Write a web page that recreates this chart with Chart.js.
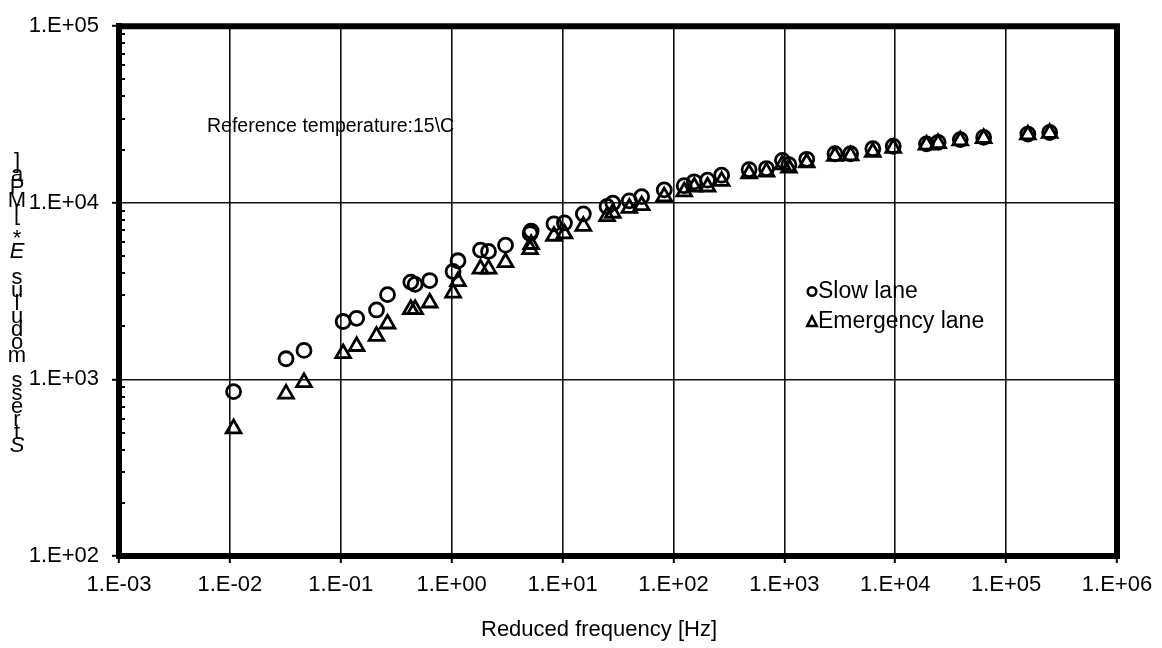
<!DOCTYPE html>
<html><head><meta charset="utf-8">
<script src="https://cdn.jsdelivr.net/npm/chart.js@4.4.1/dist/chart.umd.min.js"></script>
<style>html,body{margin:0;padding:0;background:#fff}#wrap{width:1162px;height:648px;position:relative}</style>
</head><body><div id="wrap"><canvas id="c" width="1162" height="648"></canvas></div>
<script>
// ---- data ----
const frequencies = [0.0108,0.0321,0.0466,0.105,0.139,0.21,0.264,0.428,0.468,0.634,1.03,1.14,1.82,2.15,3.06,5.1,5.21,8.36,10.4,15.4,25.2,28.4,40,51.7,82.6,125,154,203,272,481,690,961,1100,1592,2860,3960,6280,9590,19150,24380,38600,62700,157000,247000];
const slowLane = [853,1309,1459,2128,2218,2473,3019,3556,3452,3629,4083,4697,5396,5306,5755,6700,6918,7605,7690,8646,9536,9960,10260,10840,11830,12500,13150,13430,14330,15420,15630,17390,16440,17630,18950,18950,20240,20900,21570,22000,22790,23460,24510,25000];
const emergencyLane = [527,828,962,1403,1541,1760,2066,2495,2495,2717,3092,3592,4227,4227,4602,5453,5826,6486,6683,7376,8381,8755,9340,9660,10840,11560,12330,12330,13270,14650,14970,16440,15750,16870,18380,18500,19370,20380,21300,21700,22500,23200,24300,24800];
const xTickValues = [1e-3,1e-2,1e-1,1e0,1e1,1e2,1e3,1e4,1e5,1e6];
const yTickValues = [1e2,1e3,1e4,1e5];
const seriesNames = ['Slow lane','Emergency lane'];
const xTitle = 'Reduced frequency [Hz]';
const yTitle = 'Stress modulus E* [MPa]';
const noteText = 'Reference temperature:15\\C';

const FONT = '"Liberation Sans", Arial, sans-serif';
const FS = 22;

function fmt(v){
  const e = Math.round(Math.log10(v));
  const a = Math.abs(e);
  return '1.E' + (e < 0 ? '-' : '+') + (a < 10 ? '0' + a : '' + a);
}

const extras = {
  id: 'extras',
  afterDraw(chart){
    const ctx = chart.ctx, ca = chart.chartArea, ys = chart.scales.y;
    ctx.save();
    // top & right frame
    ctx.strokeStyle = '#000'; ctx.lineWidth = 6; ctx.lineCap = 'square';
    ctx.beginPath();
    ctx.moveTo(ca.left, ca.top); ctx.lineTo(ca.right, ca.top); ctx.lineTo(ca.right, ca.bottom);
    ctx.stroke();
    // minor ticks on y axis (inside)
    ctx.lineWidth = 2; ctx.lineCap = 'butt';
    for (let d = 2; d <= 4; d++) {
      for (let m = 2; m <= 9; m++) {
        const v = m * Math.pow(10, d);
        const py = Math.round(ys.getPixelForValue(v));
        ctx.beginPath(); ctx.moveTo(ca.left, py); ctx.lineTo(ca.left + 6, py); ctx.stroke();
      }
    }
    ctx.fillStyle = '#000';
    // note text
    ctx.font = '19.5px ' + FONT;
    ctx.textAlign = 'left'; ctx.textBaseline = 'middle';
    ctx.fillText(noteText, 207, 127);
    // x title
    ctx.font = FS + 'px ' + FONT;
    ctx.textAlign = 'center';
    ctx.fillText(xTitle, 599, 630);
    // legend
    ctx.font = '23px ' + FONT;
    ctx.textAlign = 'left';
    ctx.fillText(seriesNames[0], 818, 292);
    ctx.fillText(seriesNames[1], 818, 322);
    ctx.lineWidth = 2.5; ctx.strokeStyle = '#000';
    ctx.beginPath(); ctx.arc(812, 291.5, 4.3, 0, Math.PI * 2); ctx.stroke();
    ctx.beginPath();
    ctx.moveTo(812, 316.5); ctx.lineTo(816.8, 326); ctx.lineTo(807.2, 326); ctx.closePath(); ctx.stroke();
    // stacked y title (reversed characters, top to bottom)
    const chars = yTitle.split('').reverse();
    ctx.textAlign = 'center';
    const step = 12.9;
    chars.forEach((ch, i) => {
      if (ch === ' ') return;
      const it = (ch === 'E' || ch === 'S');
      ctx.font = (it ? 'italic ' : '') + '22px ' + FONT;
      ctx.fillText(ch, 17, 162 + i * step);
    });
    ctx.restore();
  }
};

new Chart(document.getElementById('c'), {
  type: 'scatter',
  data: {
    datasets: [
      {
        label: seriesNames[0],
        data: frequencies.map((f, i) => ({x: f, y: slowLane[i]})),
        pointStyle: 'circle', radius: 7, borderWidth: 2.8,
        borderColor: '#000', backgroundColor: 'rgba(0,0,0,0)', order: 2
      },
      {
        label: seriesNames[1],
        data: frequencies.map((f, i) => ({x: f, y: emergencyLane[i]})),
        pointStyle: 'triangle', radius: 8.5, borderWidth: 2.8,
        borderColor: '#000', backgroundColor: 'rgba(0,0,0,0)', order: 1
      }
    ]
  },
  options: {
    responsive: false, animation: false, devicePixelRatio: 1,
    layout: {padding: {top: 19, right: 45, left: 0, bottom: 0}},
    plugins: {legend: {display: false}, tooltip: {enabled: false}},
    scales: {
      x: {
        type: 'logarithmic', min: 1e-3, max: 1e6,
        afterBuildTicks: s => { s.ticks = xTickValues.map(v => ({value: v})); },
        afterFit: s => { s.height = 648 - 556; },
        ticks: {callback: v => fmt(v), color: '#000', font: {family: FONT, size: FS}, maxRotation: 0, autoSkip: false, padding: 9},
        grid: {color: '#111', lineWidth: 1.6, tickLength: 7, tickColor: '#000', tickWidth: 2},
        border: {display: true, color: '#000', width: 6}
      },
      y: {
        type: 'logarithmic', min: 1e2, max: 1e5,
        afterBuildTicks: s => { s.ticks = yTickValues.map(v => ({value: v})); },
        afterFit: s => { s.width = 119; },
        ticks: {callback: v => fmt(v), color: '#000', font: {family: FONT, size: FS}, autoSkip: false, padding: 13},
        grid: {color: '#111', lineWidth: 1.6, tickLength: 7, tickColor: '#000', tickWidth: 2},
        border: {display: true, color: '#000', width: 6}
      }
    }
  },
  plugins: [extras]
});
</script>
</body></html>
